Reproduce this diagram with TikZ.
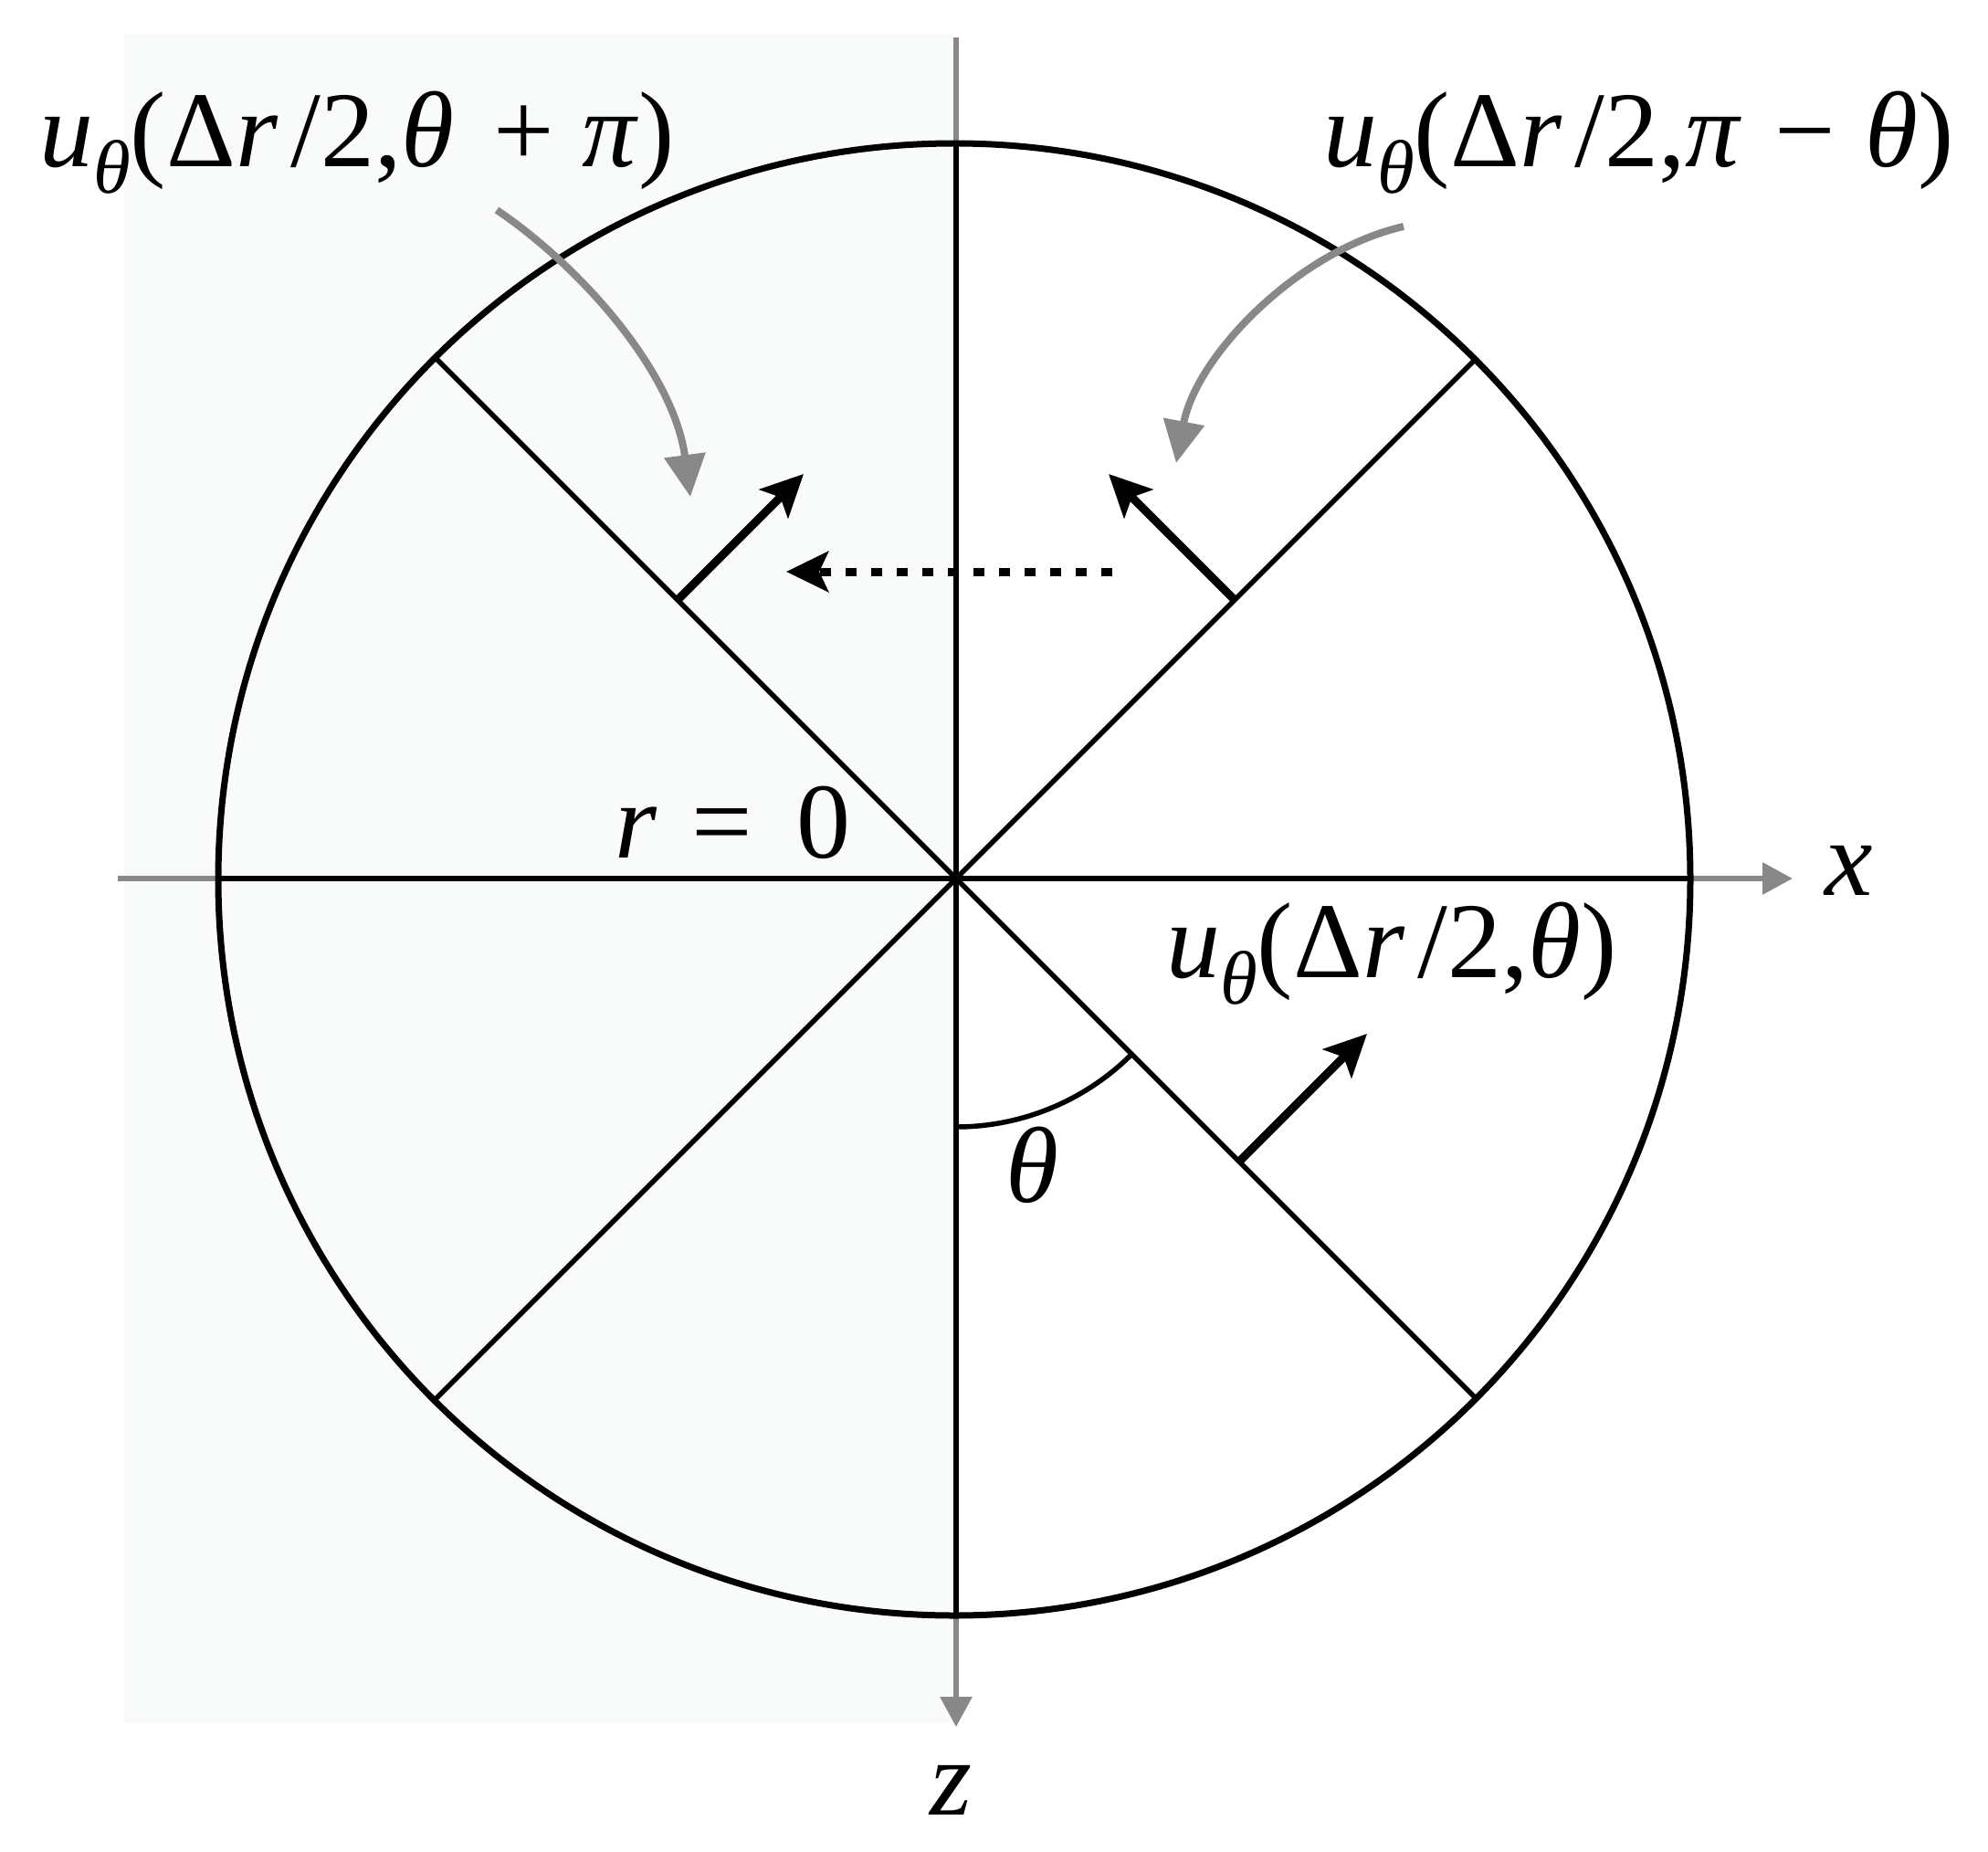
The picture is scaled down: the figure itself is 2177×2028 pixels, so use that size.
\documentclass[tikz,border=0pt]{standalone}
\usepackage{fontspec}
\setmainfont{Liberation Serif}
\usetikzlibrary{arrows.meta}
\definecolor{axgray}{RGB}{136,136,136}
\definecolor{bgtint}{RGB}{249,251,251}
\newcommand{\bigfont}{\fontsize{118}{130}\selectfont}
\newcommand{\subth}{\raisebox{-29pt}{\fontsize{83}{90}\selectfont\itshape θ}}
\newcommand{\drtwo}{Δ\textit{r}\hspace{0.12em}/2,}
\begin{document}
\begin{tikzpicture}[x=1pt,y=-1pt,
  lbl/.style={inner sep=0pt, anchor=base west, font=\bigfont},
  axisline/.style={draw=axgray, line width=6pt},
  axistip/.style={-{Triangle[length=33pt,width=34pt]}},
  blackline/.style={draw=black, line width=6pt},
  diagline/.style={draw=black, line width=5.5pt},
  velarrow/.style={draw=black, line width=9pt, -{Stealth[length=46pt,width=44pt,inset=10pt]}},
  dotarrow/.style={draw=black, line width=9pt, dash pattern=on 12pt off 16pt, -{Stealth[length=46pt,width=44pt,inset=10pt]}},
  pointer/.style={draw=axgray, line width=8pt, -{Triangle[length=46pt,width=44pt]}}]
\useasboundingbox (0,0) rectangle (2177,2028);
\fill[bgtint] (136,37) rectangle (1045,1887);
% coordinates
\coordinate (O) at (1047,962);
\coordinate (xl) at (129,962);
\coordinate (xr) at (1963,962);
\coordinate (zt) at (1047,41);
\coordinate (zb) at (1047,1891);
\coordinate (cl) at (239,962);
\coordinate (cr) at (1851,962);
\coordinate (ct) at (1047,157);
\coordinate (cb) at (1047,1769);
\coordinate (dUL) at (477,392);
\coordinate (dLR) at (1617,1532);
\coordinate (dUR) at (1617,392);
\coordinate (dLL) at (477,1532);
% gray axes
\draw[axisline] (xl) -- (cl);
\draw[axisline, axistip] (cr) -- (xr);
\draw[axisline] (zt) -- (ct);
\draw[axisline, axistip] (cb) -- (zb);
% circle and lines
\draw[line width=7pt] (1045,963) circle[radius=806];
\draw[blackline] (cl) -- (cr);
\draw[blackline] (ct) -- (cb);
\draw[diagline] (dUL) -- (dLR);
\draw[diagline] (dUR) -- (dLL);
% theta arc
\draw[line width=5.5pt] (1047,1234) arc[start angle=90,end angle=45,radius=272];
% velocity arrows
\coordinate (a1s) at (742,657);
\coordinate (a1e) at (880,519);
\coordinate (a2s) at (1352,657);
\coordinate (a2e) at (1214,519);
\coordinate (a3s) at (1357,1272);
\coordinate (a3e) at (1497,1132);
\draw[velarrow] (a1s) -- (a1e);
\draw[velarrow] (a2s) -- (a2e);
\draw[velarrow] (a3s) -- (a3e);
\coordinate (ds) at (1218,626);
\coordinate (de) at (861,626);
\draw[dotarrow] (ds) -- (de);
% gray pointers
\coordinate (g1s) at (544,230);
\coordinate (g1e) at (756,544);
\coordinate (g2s) at (1537,248);
\coordinate (g2e) at (1288,507);
\draw[pointer] (g1s) .. controls (640,295) and (738,410) .. (g1e);
\draw[pointer] (g2s) .. controls (1420,275) and (1310,390) .. (g2e);
% labels
\node[lbl] (L1) at (43,183) {\textit{u}\subth(\drtwo\textit{θ}\hspace{0.36em}+\hspace{0.26em}\textit{π})};
\node[lbl] (L2) at (1449,183) {\textit{u}\subth(\drtwo\textit{π}\hspace{0.3em}−\hspace{0.28em}\textit{θ})};
\node[lbl] (L3) at (1277,1070) {\textit{u}\subth(\drtwo\textit{θ})};
\node[lbl] (L4) at (673,939) {\textit{r}\hspace{0.32em}=\hspace{0.41em}0};
\node[lbl] (L5) at (1101,1316) {\textit{θ}};
\node[lbl] (L6) at (1998,980) {\textit{x}};
\node[lbl] (L7) at (1018,1987) {\textit{z}};
\end{tikzpicture}
\end{document}
